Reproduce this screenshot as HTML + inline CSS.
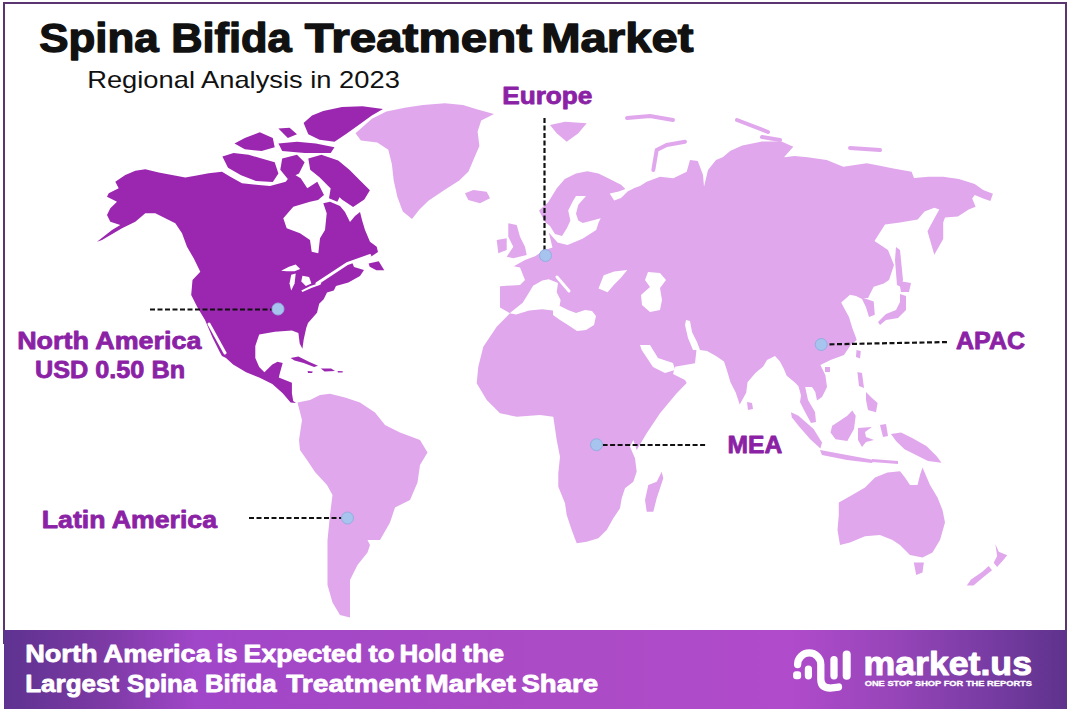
<!DOCTYPE html>
<html><head><meta charset="utf-8"><style>
html,body{margin:0;padding:0;background:#fff;}
svg{display:block;}
text{font-family:"Liberation Sans",sans-serif;}
</style></head><body>
<svg width="1071" height="713" viewBox="0 0 1071 713">
<defs>
<linearGradient id="bg" x1="0" x2="1" y1="0" y2="0">
<stop offset="0" stop-color="#5e3290"/>
<stop offset="0.095" stop-color="#7d3aa5"/>
<stop offset="0.18" stop-color="#a046c8"/>
<stop offset="0.5" stop-color="#ab4bc5"/>
<stop offset="0.74" stop-color="#b04bcb"/>
<stop offset="0.84" stop-color="#9645b8"/>
<stop offset="0.92" stop-color="#7a3ca5"/>
<stop offset="1" stop-color="#5e338c"/>
</linearGradient>
</defs>
<rect x="0" y="0" width="1071" height="713" fill="#fff"/>
<rect x="4" y="3" width="1062" height="640" fill="none" stroke="#5a3572" stroke-width="2"/>
<path d="M355.5,133.3 L371.9,118.7 L386.4,111.4 L404.7,107.8 L422.9,105.0 L444.8,103.2 L463.0,105.0 L477.6,109.6 L494.0,114.1 L481.2,120.5 L477.6,131.4 L479.4,146.0 L473.9,158.8 L468.5,171.5 L459.3,180.6 L444.8,189.8 L428.4,200.7 L419.2,209.8 L412.0,218.9 L402.8,211.6 L397.4,197.0 L393.7,180.6 L391.9,164.2 L388.3,149.7 L377.3,142.4 L360.9,140.6 Z" fill="#e0a7ec"/>
<path d="M465.0,193.3 L473.3,190.0 L486.7,191.7 L490.0,198.3 L480.0,203.3 L468.3,200.0 Z" fill="#e0a7ec"/>
<path d="M508.3,223.3 L516.7,225.0 L520.0,236.7 L525.0,246.7 L526.7,255.0 L513.3,258.3 L506.7,256.7 L513.3,246.7 L508.3,236.7 Z" fill="#e0a7ec"/>
<path d="M496.7,240.0 L506.7,238.3 L506.7,250.0 L498.3,253.3 Z" fill="#e0a7ec"/>
<path d="M550.0,125.0 L565.0,121.7 L586.7,123.3 L578.3,133.3 L566.7,141.7 L556.7,133.3 Z" fill="#e0a7ec"/>
<path d="M297.5,402.5 L310.0,400.0 L320.0,395.0 L330.0,393.8 L345.0,397.5 L360.0,402.5 L375.0,412.5 L385.0,425.0 L400.0,432.5 L420.0,440.0 L427.5,452.5 L420.0,465.0 L417.5,482.5 L410.0,500.0 L395.0,507.5 L390.0,522.5 L380.0,540.0 L367.5,540.0 L370.0,545.0 L367.5,552.5 L357.5,565.0 L350.0,580.0 L350.0,602.5 L350.0,617.5 L340.0,615.0 L332.5,602.5 L327.5,585.0 L327.5,565.0 L327.5,540.0 L330.0,515.0 L332.5,495.0 L327.0,485.0 L315.0,472.0 L307.0,460.0 L300.0,450.0 L299.0,440.0 L302.0,420.0 Z" fill="#e0a7ec"/>
<path d="M500.0,307.5 L500.0,286.2 L520.0,285.0 L525.0,280.0 L520.0,267.5 L513.8,266.2 L525.0,260.0 L535.0,256.2 L545.0,250.0 L552.5,247.5 L548.8,232.5 L557.5,242.5 L567.5,245.0 L582.5,238.8 L596.2,230.0 L598.5,222.8 L600.7,218.3 L582.8,223.0 L578.3,220.5 L576.0,213.8 L578.3,204.8 L586.0,196.0 L576.0,196.0 L572.7,201.5 L568.2,210.4 L570.4,220.5 L567.0,228.0 L562.0,236.0 L555.0,234.0 L550.0,226.0 L545.0,222.0 L539.0,210.4 L548.0,202.6 L557.0,188.0 L564.8,179.0 L576.0,173.5 L587.3,171.2 L598.5,173.5 L609.7,179.0 L621.0,184.7 L625.4,189.0 L618.7,191.4 L609.7,193.6 L614.2,200.4 L621.0,198.0 L627.6,191.4 L634.4,188.0 L640.0,186.0 L646.7,181.7 L660.0,176.7 L673.3,178.3 L686.7,171.7 L690.0,160.0 L697.8,161.0 L703.0,175.0 L704.0,186.7 L708.0,170.0 L716.0,160.0 L722.7,157.3 L730.5,150.8 L742.3,145.5 L762.0,141.6 L781.5,141.6 L793.3,146.8 L784.0,157.3 L794.6,156.0 L807.6,157.3 L826.7,160.0 L843.3,166.7 L866.7,163.3 L880.0,165.8 L892.1,168.2 L911.6,171.8 L914.0,177.9 L928.5,176.7 L943.1,176.7 L958.9,179.1 L974.7,184.0 L983.2,190.0 L992.9,193.7 L990.4,201.0 L983.2,198.5 L974.7,194.9 L972.2,198.5 L975.6,206.7 L968.7,209.6 L957.9,216.5 L945.0,217.5 L943.2,222.4 L943.2,239.0 L934.3,254.8 L927.5,231.2 L934.3,218.5 L939.3,209.6 L934.3,207.7 L924.5,211.6 L917.7,219.4 L900.0,222.4 L885.0,224.5 L874.5,241.0 L888.0,250.0 L894.0,265.0 L889.0,280.0 L883.8,283.5 L873.7,286.8 L868.0,298.0 L863.6,298.0 L873.7,301.4 L874.8,314.8 L869.0,317.0 L865.9,307.0 L862.0,299.0 L856.0,296.0 L850.0,294.7 L841.2,302.5 L844.6,309.0 L849.0,317.0 L852.4,328.3 L855.8,337.3 L856.7,340.0 L850.7,345.0 L844.0,355.0 L830.5,360.0 L820.4,365.0 L825.4,375.3 L827.0,387.0 L822.0,397.0 L817.0,400.5 L815.3,392.0 L812.0,387.0 L805.2,387.0 L808.0,400.0 L815.0,412.0 L816.0,422.0 L811.0,423.0 L804.0,410.0 L800.0,402.0 L801.0,395.4 L798.5,386.2 L794.6,382.3 L786.7,375.8 L784.0,369.2 L780.0,361.4 L775.0,356.0 L767.0,360.0 L763.2,366.6 L755.4,373.0 L747.5,382.3 L746.2,392.7 L739.7,404.5 L735.8,392.7 L730.5,382.3 L726.6,369.2 L724.0,361.4 L716.0,356.0 L707.0,351.0 L696.5,349.6 L695.0,363.3 L675.0,366.7 L673.0,374.0 L685.0,380.0 L686.7,383.0 L676.7,393.3 L660.0,413.3 L646.7,433.3 L636.7,450.0 L633.3,440.0 L630.0,446.7 L635.0,458.3 L636.7,471.7 L633.3,481.7 L625.0,488.3 L621.7,498.3 L620.0,508.3 L613.3,518.3 L606.7,530.0 L598.3,538.3 L586.7,541.7 L576.7,543.3 L571.7,530.0 L566.7,515.0 L565.0,503.3 L558.3,486.7 L558.3,473.3 L560.0,456.7 L556.7,440.0 L553.3,416.7 L540.0,415.0 L516.7,416.7 L500.0,413.3 L486.7,400.0 L476.7,383.3 L478.3,366.7 L483.3,346.7 L496.7,326.7 L510.0,313.3 Z" fill="#e0a7ec"/>
<path d="M661.7,471.7 L663.3,478.3 L656.7,498.3 L653.3,511.7 L646.7,511.7 L645.0,500.0 L648.3,485.0 L656.7,481.7 Z" fill="#e0a7ec"/>
<path d="M747.0,402.0 L752.0,403.0 L753.0,409.0 L748.0,410.0 Z" fill="#e0a7ec"/>
<path d="M791.0,412.3 L798.5,415.7 L813.6,429.0 L822.0,442.6 L820.4,448.5 L810.3,439.2 L798.5,425.8 L791.8,417.3 Z" fill="#e0a7ec"/>
<path d="M820.0,450.0 L847.0,455.0 L874.0,460.0 L872.0,463.0 L847.0,460.0 L822.0,455.0 Z" fill="#e0a7ec"/>
<path d="M832.2,425.8 L837.2,422.4 L847.3,415.7 L852.3,410.6 L855.7,415.7 L854.0,429.0 L847.3,440.9 L835.5,439.2 L830.5,432.5 Z" fill="#e0a7ec"/>
<path d="M858.0,428.0 L872.0,427.0 L865.0,432.0 L866.0,437.0 L874.0,440.0 L866.0,442.0 L862.0,447.0 L858.0,440.0 Z" fill="#e0a7ec"/>
<path d="M857.4,372.0 L862.0,373.0 L864.0,388.0 L859.0,386.0 Z" fill="#e0a7ec"/>
<path d="M866.0,392.0 L872.0,398.0 L877.6,403.0 L876.0,412.3 L868.0,410.0 L866.0,400.0 Z" fill="#e0a7ec"/>
<path d="M872.0,459.0 L885.0,460.0 L898.0,461.0 L898.0,464.0 L885.0,463.0 L872.0,462.0 Z" fill="#e0a7ec"/>
<path d="M880.0,425.0 L886.0,424.0 L888.0,436.0 L883.0,437.0 Z" fill="#e0a7ec"/>
<path d="M825.0,367.0 L830.0,367.0 L830.0,372.0 L825.0,372.0 Z" fill="#e0a7ec"/>
<path d="M856.5,350.0 L860.8,351.0 L860.0,358.5 L856.0,357.0 Z" fill="#e0a7ec"/>
<path d="M891.0,434.0 L901.0,432.5 L911.2,437.5 L926.4,446.0 L936.5,456.0 L941.5,462.8 L928.0,461.0 L918.0,456.0 L904.5,449.3 L896.0,441.0 Z" fill="#e0a7ec"/>
<path d="M838.8,502.5 L850.0,496.2 L865.0,487.5 L875.0,477.5 L887.5,472.5 L900.0,471.2 L905.0,477.5 L910.0,485.0 L917.5,485.0 L920.0,475.0 L922.5,467.5 L930.0,485.0 L937.5,497.5 L942.5,510.0 L945.0,522.5 L940.0,540.0 L932.5,552.5 L922.5,557.5 L910.0,555.0 L900.0,545.0 L892.5,540.0 L880.0,535.0 L865.0,536.2 L850.0,542.5 L840.0,545.0 L837.5,530.0 L838.8,515.0 Z" fill="#e0a7ec"/>
<path d="M913.8,562.5 L923.8,562.5 L922.5,572.5 L916.2,575.0 Z" fill="#e0a7ec"/>
<path d="M995.4,544.3 L998.8,551.8 L1007.2,555.2 L1003.8,559.4 L997.1,567.0 L993.7,562.8 L997.1,556.0 Z" fill="#e0a7ec"/>
<path d="M988.7,566.1 L992.0,570.3 L983.6,577.0 L973.5,585.5 L966.8,585.5 L971.0,579.6 L982.0,572.0 Z" fill="#e0a7ec"/>
<path d="M899.0,281.0 L911.0,283.0 L909.0,292.0 L901.0,292.0 Z" fill="#e0a7ec"/>
<path d="M900.0,294.0 L906.0,296.0 L906.0,310.0 L898.0,318.0 L886.0,320.0 L880.0,325.0 L878.0,322.0 L886.0,314.0 L896.0,310.0 L900.0,302.0 Z" fill="#e0a7ec"/>
<path d="M896.0,247.0 L900.0,250.0 L903.0,280.0 L901.0,287.0 L897.0,285.0 L895.0,260.0 Z" fill="#e0a7ec"/>
<path d="M653.3,170 L656.7,150 L666.7,145 L685,141.7" stroke="#e0a7ec" stroke-width="4" fill="none" stroke-linecap="round"/>
<path d="M627,118 L650,116 L673,120" stroke="#e0a7ec" stroke-width="4" fill="none" stroke-linecap="round"/>
<path d="M850,148 L880,150" stroke="#e0a7ec" stroke-width="4" fill="none" stroke-linecap="round"/>
<path d="M737,120 L768,132" stroke="#e0a7ec" stroke-width="4" fill="none" stroke-linecap="round"/>
<path d="M762,137 L780,140" stroke="#e0a7ec" stroke-width="4" fill="none" stroke-linecap="round"/>
<path d="M115.3,181.7 L125.3,175.0 L135.3,170.8 L145.3,169.2 L158.7,172.5 L172.0,175.0 L185.3,177.5 L195.3,175.8 L208.7,173.3 L222.0,171.7 L230.3,176.7 L242.0,183.3 L258.7,185.0 L270.0,186.0 L285.7,181.7 L292.3,173.3 L300.7,178.3 L307.3,188.3 L317.3,181.7 L324.0,195.0 L318.0,200.0 L310.0,201.7 L293.3,206.7 L283.3,218.3 L286.7,228.3 L300.0,233.3 L310.0,240.0 L311.7,251.7 L318.3,253.3 L320.0,238.3 L325.0,230.0 L326.7,213.3 L323.3,203.3 L330.0,201.7 L340.0,206.0 L345.0,212.0 L350.0,222.0 L355.0,216.0 L360.0,212.0 L362.0,220.0 L365.0,230.0 L370.0,241.7 L376.7,246.7 L378.0,252.0 L372.0,256.0 L362.0,259.0 L352.0,262.0 L354.0,267.0 L364.0,270.0 L360.0,276.0 L348.4,282.5 L336.0,285.9 L333.8,290.4 L327.0,292.6 L323.7,299.3 L319.2,303.8 L317.0,312.8 L308.0,322.9 L306.3,327.8 L303.7,339.6 L302.4,348.8 L299.7,343.5 L298.4,333.1 L291.9,330.5 L274.9,331.8 L259.2,334.4 L255.3,346.1 L255.3,357.9 L259.2,367.1 L264.4,372.3 L272.3,364.4 L277.5,361.8 L282.7,363.1 L280.1,372.3 L278.8,377.5 L291.9,382.7 L291.9,393.2 L293.2,401.0 L296.0,403.0 L290.6,402.4 L282.7,393.2 L272.3,384.1 L259.2,377.5 L246.1,372.3 L233.1,364.4 L226.0,358.0 L222.0,356.0 L220.0,352.5 L212.5,337.5 L205.0,320.0 L197.5,307.5 L191.2,295.0 L192.5,280.0 L200.3,271.7 L193.7,258.3 L187.0,246.7 L182.0,233.3 L175.3,223.3 L165.3,218.3 L155.3,213.3 L145.3,213.3 L135.3,221.7 L122.0,228.3 L102.0,240.0 L97.0,241.7 L112.0,230.0 L120.3,225.0 L110.3,221.7 L107.0,215.0 L110.3,208.3 L117.0,201.7 L107.0,196.7 L108.7,193.3 L118.7,188.3 Z" fill="#9b27b0"/>
<path d="M303.6,123.0 L312.0,115.5 L323.2,110.9 L342.0,107.1 L362.5,106.2 L383.0,109.0 L371.8,115.5 L358.7,124.9 L345.7,134.2 L334.5,141.7 L319.5,139.8 L308.3,134.2 Z" fill="#9b27b0"/>
<path d="M278.4,128.6 L289.6,127.7 L297.0,134.2 L287.8,138.0 Z" fill="#9b27b0"/>
<path d="M234.5,143.6 L244.8,138.0 L259.8,132.3 L272.8,138.0 L274.7,147.3 L261.6,151.0 L244.8,149.2 Z" fill="#9b27b0"/>
<path d="M278.4,143.6 L297.0,141.7 L315.8,143.6 L334.5,147.3 L330.7,152.9 L304.6,152.9 L282.2,151.0 Z" fill="#9b27b0"/>
<path d="M222.4,156.6 L233.6,152.9 L248.6,154.8 L261.6,158.5 L274.7,162.2 L278.4,173.4 L272.8,182.0 L256.0,181.0 L241.1,175.3 L228.0,167.8 Z" fill="#9b27b0"/>
<path d="M282.2,158.5 L297.0,154.8 L304.6,162.2 L299.0,173.4 L287.8,179.0 L280.3,169.7 Z" fill="#9b27b0"/>
<path d="M308.3,158.5 L321.4,154.8 L338.2,160.4 L349.4,169.7 L360.6,180.9 L369.9,190.2 L364.3,199.6 L353.1,207.0 L341.9,199.6 L330.7,188.4 L319.5,177.2 L310.2,169.7 Z" fill="#9b27b0"/>
<path d="M330.7,188.3 L340.7,195.0 L337.3,201.7 L329.0,198.3 Z" fill="#9b27b0"/>
<path d="M368.6,263.5 L378.7,261.2 L384.3,270.2 L376.4,270.2 L369.7,266.8 Z" fill="#9b27b0"/>
<path d="M290.6,357.9 L298.4,356.6 L308.9,361.8 L318.0,365.8 L314.1,367.1 L303.7,363.1 L294.5,360.5 Z" fill="#9b27b0"/>
<path d="M320.7,368.4 L331.1,368.4 L335.0,371.0 L324.6,371.6 Z" fill="#9b27b0"/>
<path d="M307.6,371.0 L312.8,371.5 L312.0,373.0 L308.0,373.0 Z" fill="#9b27b0"/>
<path d="M337.6,371.0 L342.9,371.2 L342.5,372.6 L337.8,372.4 Z" fill="#9b27b0"/>
<path d="M509.6,313.2 L522.7,302.7 L529.2,292.3 L533.1,285.8 L542.3,280.5 L548.8,279.2 L558.0,283.1 L556.7,292.3 L560.6,300.1 L559.3,308.0 L552.7,310.6 L542.3,309.3 L529.2,310.6 L516.1,314.5 Z" fill="#ffffff"/>
<path d="M553.0,309.0 L560.0,306.0 L568.0,310.0 L576.0,313.0 L585.0,310.0 L592.0,311.0 L596.0,316.0 L594.0,325.0 L586.0,330.0 L577.0,331.0 L568.0,325.0 L560.0,320.0 L553.0,315.0 Z" fill="#ffffff"/>
<path d="M598.5,288.4 L603.7,275.3 L614.2,271.4 L627.3,270.0 L620.7,277.9 L614.2,284.4 L607.6,292.3 Z" fill="#ffffff"/>
<path d="M648.0,272.0 L660.0,273.0 L666.0,280.0 L660.0,288.0 L662.0,300.0 L660.0,310.0 L650.0,312.0 L642.0,305.0 L641.0,295.0 L650.0,287.0 L645.0,280.0 Z" fill="#ffffff"/>
<path d="M640.0,345.0 L650.0,345.0 L658.0,358.0 L673.0,363.0 L675.0,370.0 L665.0,373.0 L653.0,367.0 L641.7,350.0 Z" fill="#ffffff"/>
<path d="M686.0,320.0 L690.0,321.0 L692.0,332.0 L697.0,342.0 L700.0,350.0 L693.0,350.0 L688.0,338.0 L685.0,325.0 Z" fill="#ffffff"/>
<path d="M281.1,270.7 L289.0,266.8 L295.7,264.6 L300.2,269.0 L294.6,271.3 L286.7,271.3 Z" fill="#ffffff"/>
<path d="M291.2,274.7 L295.7,273.5 L294.6,283.6 L291.2,290.4 L289.5,283.6 Z" fill="#ffffff"/>
<path d="M302.4,275.8 L309.1,276.9 L311.4,283.6 L305.8,285.9 L301.3,281.4 Z" fill="#ffffff"/>
<path d="M301.3,290.4 L310.3,285.9 L321.5,282.5 L320.4,284.8 L311.4,288.1 L302.4,292.0 Z" fill="#ffffff"/>
<path d="M209,324 L225,353" stroke="#ffffff" stroke-width="3" fill="none" stroke-linecap="round"/>
<path d="M317,283.6 L347.3,263.5 L369.7,255.6" stroke="#ffffff" stroke-width="3" fill="none" stroke-linecap="round"/>
<path d="M557,277 L569,291" stroke="#ffffff" stroke-width="3" fill="none" stroke-linecap="round"/>
<line x1="544.5" y1="118" x2="544.5" y2="250" stroke="#111" stroke-width="2.2" stroke-dasharray="5,2.5"/><circle cx="545.5" cy="255.5" r="6" fill="#a6c4ee" stroke="#93ade0" stroke-width="1"/><line x1="150" y1="309.5" x2="272" y2="309.5" stroke="#111" stroke-width="2.2" stroke-dasharray="5,2.5"/><circle cx="278" cy="309" r="6" fill="#a6c4ee" stroke="#93ade0" stroke-width="1"/><line x1="822" y1="344.5" x2="948.75" y2="342" stroke="#111" stroke-width="2.2" stroke-dasharray="5,2.5"/><circle cx="821.25" cy="344.5" r="6" fill="#a6c4ee" stroke="#93ade0" stroke-width="1"/><line x1="602.6" y1="445" x2="705.3" y2="445" stroke="#111" stroke-width="2.2" stroke-dasharray="5,2.5"/><circle cx="596.5" cy="444.7" r="6" fill="#a6c4ee" stroke="#93ade0" stroke-width="1"/><line x1="249" y1="518" x2="342" y2="518" stroke="#111" stroke-width="2.2" stroke-dasharray="5,2.5"/><circle cx="347.5" cy="518" r="6" fill="#a6c4ee" stroke="#93ade0" stroke-width="1"/>
<rect x="4" y="630" width="1063" height="79" fill="url(#bg)"/>
<text x="39.2" y="52" font-size="40" font-weight="bold" fill="#111" stroke="#111" stroke-width="1.3" stroke-linejoin="round" textLength="119.41" lengthAdjust="spacingAndGlyphs" >Spina</text><text x="171.2" y="52" font-size="40" font-weight="bold" fill="#111" stroke="#111" stroke-width="1.3" stroke-linejoin="round" textLength="120.42" lengthAdjust="spacingAndGlyphs" >Bifida</text><text x="304.8" y="52" font-size="40" font-weight="bold" fill="#111" stroke="#111" stroke-width="1.3" stroke-linejoin="round" textLength="227.2" lengthAdjust="spacingAndGlyphs" >Treatment</text><text x="541.2" y="52" font-size="40" font-weight="bold" fill="#111" stroke="#111" stroke-width="1.3" stroke-linejoin="round" textLength="152.24" lengthAdjust="spacingAndGlyphs" >Market</text><text x="87.2" y="87.7" font-size="23.8" font-weight="normal" fill="#111" textLength="312.64" lengthAdjust="spacingAndGlyphs" >Regional Analysis in 2023</text><text x="502.2" y="103.5" font-size="24" font-weight="bold" fill="#8b22a5" stroke="#8b22a5" stroke-width="0.8" stroke-linejoin="round" textLength="90.26" lengthAdjust="spacingAndGlyphs" >Europe</text><text x="17.2" y="348.5" font-size="24" font-weight="bold" fill="#8b22a5" stroke="#8b22a5" stroke-width="0.8" stroke-linejoin="round" textLength="184.21" lengthAdjust="spacingAndGlyphs" >North America</text><text x="35.0" y="378.4" font-size="24" font-weight="bold" fill="#8b22a5" stroke="#8b22a5" stroke-width="0.8" stroke-linejoin="round" textLength="150.05" lengthAdjust="spacingAndGlyphs" >USD 0.50 Bn</text><text x="956.0" y="348.75" font-size="24" font-weight="bold" fill="#8b22a5" stroke="#8b22a5" stroke-width="0.8" stroke-linejoin="round" textLength="69.01" lengthAdjust="spacingAndGlyphs" >APAC</text><text x="727.6" y="452.9" font-size="24" font-weight="bold" fill="#8b22a5" stroke="#8b22a5" stroke-width="0.8" stroke-linejoin="round" textLength="54.64" lengthAdjust="spacingAndGlyphs" >MEA</text><text x="41.8" y="528.3" font-size="24" font-weight="bold" fill="#8b22a5" stroke="#8b22a5" stroke-width="0.8" stroke-linejoin="round" textLength="175.2" lengthAdjust="spacingAndGlyphs" >Latin America</text><text x="25.2" y="661.7" font-size="24.5" font-weight="bold" fill="#fff" stroke="#fff" stroke-width="0.8" stroke-linejoin="round" textLength="72.3" lengthAdjust="spacingAndGlyphs" >North</text><text x="103.6" y="661.7" font-size="24.5" font-weight="bold" fill="#fff" stroke="#fff" stroke-width="0.8" stroke-linejoin="round" textLength="107.2" lengthAdjust="spacingAndGlyphs" >America</text><text x="216.6" y="661.7" font-size="24.5" font-weight="bold" fill="#fff" stroke="#fff" stroke-width="0.8" stroke-linejoin="round" textLength="20.79" lengthAdjust="spacingAndGlyphs" >is</text><text x="243.6" y="661.7" font-size="24.5" font-weight="bold" fill="#fff" stroke="#fff" stroke-width="0.8" stroke-linejoin="round" textLength="118.67" lengthAdjust="spacingAndGlyphs" >Expected</text><text x="368.6" y="661.7" font-size="24.5" font-weight="bold" fill="#fff" stroke="#fff" stroke-width="0.8" stroke-linejoin="round" textLength="26.02" lengthAdjust="spacingAndGlyphs" >to</text><text x="399.4" y="661.7" font-size="24.5" font-weight="bold" fill="#fff" stroke="#fff" stroke-width="0.8" stroke-linejoin="round" textLength="57.75" lengthAdjust="spacingAndGlyphs" >Hold</text><text x="462.8" y="661.7" font-size="24.5" font-weight="bold" fill="#fff" stroke="#fff" stroke-width="0.8" stroke-linejoin="round" textLength="41.43" lengthAdjust="spacingAndGlyphs" >the</text><text x="25.2" y="691.5" font-size="24.5" font-weight="bold" fill="#fff" stroke="#fff" stroke-width="0.8" stroke-linejoin="round" textLength="94.02" lengthAdjust="spacingAndGlyphs" >Largest</text><text x="127.0" y="691.5" font-size="24.5" font-weight="bold" fill="#fff" stroke="#fff" stroke-width="0.8" stroke-linejoin="round" textLength="70.2" lengthAdjust="spacingAndGlyphs" >Spina</text><text x="205.0" y="691.5" font-size="24.5" font-weight="bold" fill="#fff" stroke="#fff" stroke-width="0.8" stroke-linejoin="round" textLength="71.61" lengthAdjust="spacingAndGlyphs" >Bifida</text><text x="286.2" y="691.5" font-size="24.5" font-weight="bold" fill="#fff" stroke="#fff" stroke-width="0.8" stroke-linejoin="round" textLength="134.4" lengthAdjust="spacingAndGlyphs" >Treatment</text><text x="425.2" y="691.5" font-size="24.5" font-weight="bold" fill="#fff" stroke="#fff" stroke-width="0.8" stroke-linejoin="round" textLength="90.61" lengthAdjust="spacingAndGlyphs" >Market</text><text x="521.4" y="691.5" font-size="24.5" font-weight="bold" fill="#fff" stroke="#fff" stroke-width="0.8" stroke-linejoin="round" textLength="76.82" lengthAdjust="spacingAndGlyphs" >Share</text><text x="863.5" y="674.8" font-size="33.5" font-weight="bold" fill="#fff" stroke="#fff" stroke-width="1.0" stroke-linejoin="round" textLength="168.5" lengthAdjust="spacingAndGlyphs" >market.us</text><text x="864.7" y="686" font-size="7.2" font-weight="bold" fill="#fff" stroke="#fff" stroke-width="0.3" stroke-linejoin="round" textLength="167.3" lengthAdjust="spacingAndGlyphs" >ONE STOP SHOP FOR THE REPORTS</text>

<g fill="none" stroke="#fff" stroke-linecap="round" stroke-linejoin="round">
  <rect x="793.1" y="671.3" width="8" height="8" rx="3" fill="#fff" stroke="none"/>
  <path d="M797.6,664.5 A11.6,11.6 0 0 1 820.8,664.5 L820.8,679 Q820.8,688 830,688 L838.5,687" stroke-width="7.3"/>
  <path d="M808.4,669 L808.4,675.8" stroke-width="7.2"/>
  <path d="M834,659.6 L834,675.8" stroke-width="7.3"/>
  <path d="M846.7,654.6 L846.7,675.8" stroke-width="8"/>
</g>

</svg>
</body></html>
